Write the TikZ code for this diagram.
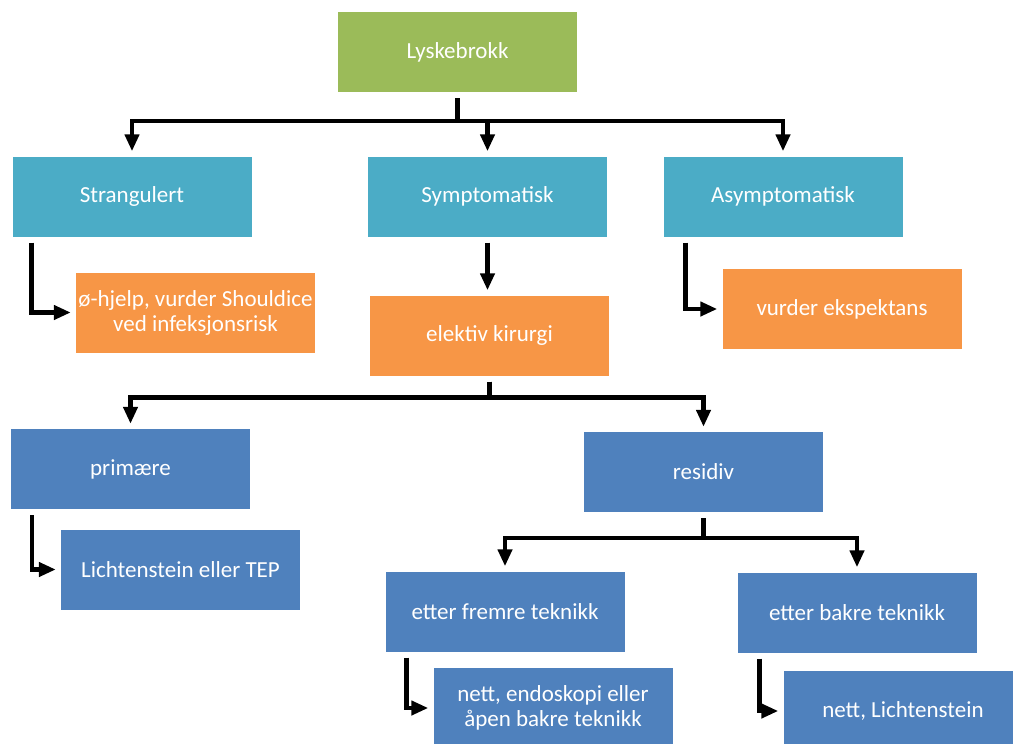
\documentclass[tikz,border=0pt]{standalone}
\usepackage{fontspec}
\setmainfont{Carlito}
\usepackage{tikz}
\usetikzlibrary{arrows.meta}
\definecolor{boxgreen}{HTML}{9BBB59}
\definecolor{boxteal}{HTML}{4BACC6}
\definecolor{boxorange}{HTML}{F79646}
\definecolor{boxblue}{HTML}{4F81BD}

\begin{document}
\begin{tikzpicture}[x=1pt, y=-1pt, >={Triangle[width=14pt,length=17pt]},
        box/.style={rectangle, inner sep=0pt, minimum width=239pt, minimum height=80pt,
            text=white, align=center, font=\fontsize{23}{25}\selectfont},
        conn/.style={->, line width=4.5pt, shorten <=6pt, shorten >=5pt}]
            \useasboundingbox (0, 0) rectangle (1013, 744);
            \clip (0, 0) rectangle (1013, 744);
            \node[box, fill=boxgreen] (root) at (457.5, 52) {Lyskebrokk};
            \node[box, fill=boxteal] (strang) at (132, 196.5) {Strangulert};
            \node[box, fill=boxteal] (sympt) at (487.5, 196.5) {Symptomatisk};
            \node[box, fill=boxteal] (asympt) at (783, 196.5) {Asymptomatisk};
            \node[box, fill=boxorange] (ohjelp) at (195.5, 312.5) {ø-hjelp, vurder Shouldice\\ved infeksjonsrisk};
            \node[box, fill=boxorange] (elektiv) at (489.5, 335.5) {elektiv kirurgi};
            \node[box, fill=boxorange] (ekspekt) at (842, 309) {vurder ekspektans};
            \node[box, fill=boxblue] (prim) at (130.5, 469) {primære};
            \node[box, fill=boxblue] (resid) at (703.5, 472) {residiv};
            \node[box, fill=boxblue] (licht) at (180.5, 569.5) {Lichtenstein eller TEP};
            \node[box, fill=boxblue] (fremre) at (505, 611.5) {etter fremre teknikk};
            \node[box, fill=boxblue] (bakre) at (857, 612.5) {etter bakre teknikk};
            \node[box, fill=boxblue] (endo) at (553, 708) {nett, endoskopi eller\\åpen bakre teknikk};
            \node[box, fill=boxblue] (nettlicht) at (903, 711) {nett, Lichtenstein};
            \foreach \c in {strang, sympt, asympt} {
                \draw[conn] (root.south) -- ++(0, 29) -| (\c.north);
            };
            \draw[conn] (sympt.south) -- (sympt.south |- elektiv.north);
            \draw[conn] ([xshift=19pt]strang.south west) |- (ohjelp.west);
            \draw[conn] ([xshift=22pt]asympt.south west) |- (ekspekt.west);
            \foreach \c in {prim, resid} {
                \draw[conn] (elektiv.south) -- ++(0, 22) -| (\c.north);
            };
            \draw[conn] ([xshift=21pt]prim.south west) |- (licht.west);
            \foreach \c in {fremre, bakre} {
                \draw[conn] (resid.south) -- ++(0, 26) -| (\c.north);
            };
            \draw[conn] ([xshift=21pt]fremre.south west) |- (endo.west);
            \draw[conn] ([xshift=22pt]bakre.south west) |- (nettlicht.west);
        \end{tikzpicture}
\end{document}
